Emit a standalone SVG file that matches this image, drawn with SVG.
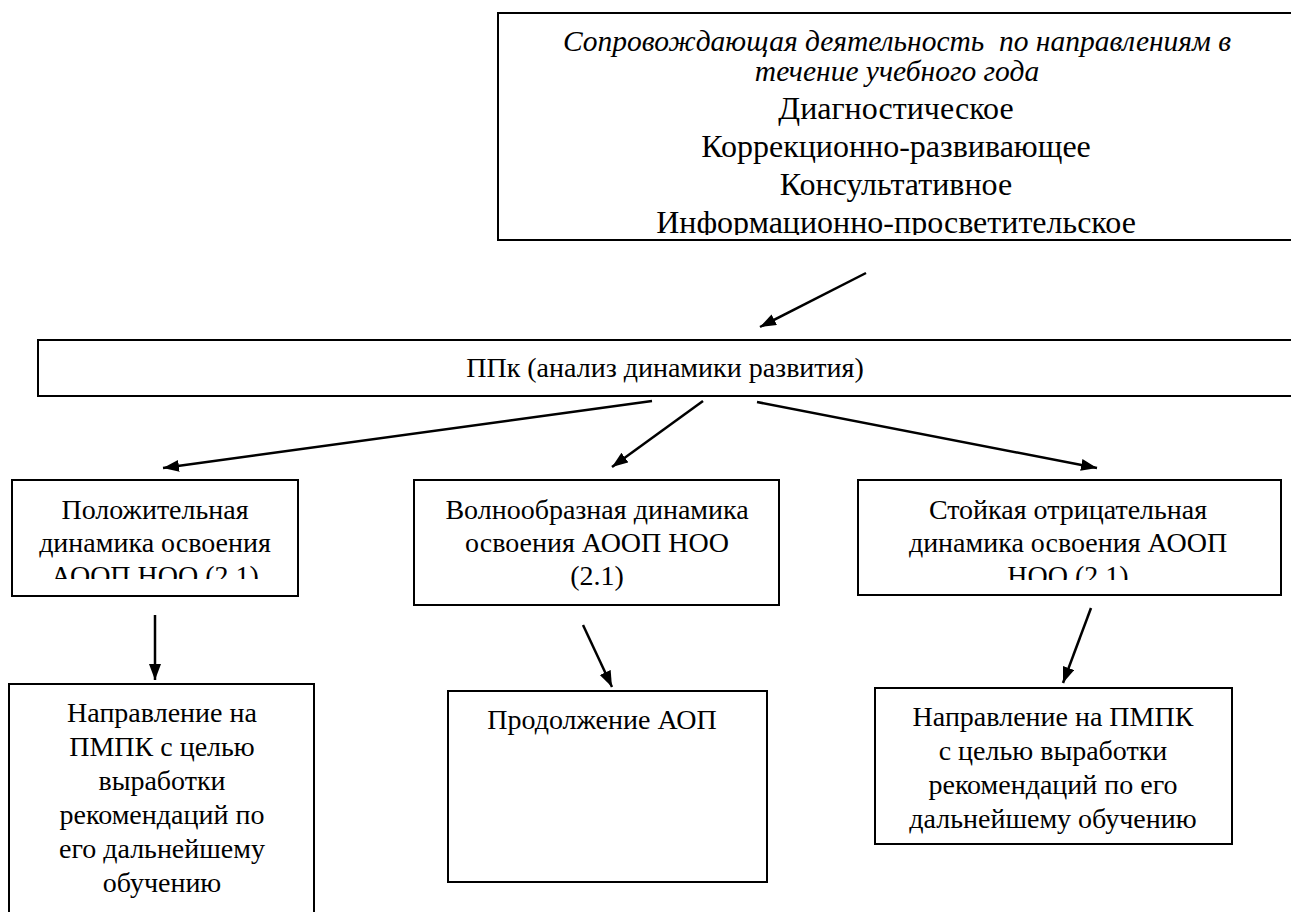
<svg xmlns="http://www.w3.org/2000/svg" width="1291" height="912" viewBox="0 0 1291 912">
<style>
.box{fill:#fff;stroke:#000;stroke-width:2}
.t{font-family:"Liberation Serif","Times New Roman",serif;font-size:28px;fill:#000;text-anchor:middle}
.big{font-size:32px}
.it{font-style:italic;font-size:29.5px;white-space:pre}
.conn line{stroke:#000;stroke-width:2.5}
</style>
<defs>
<marker id="ah" markerUnits="userSpaceOnUse" markerWidth="18" markerHeight="14" refX="16" refY="6" orient="auto">
<path d="M0,0 L16,6 L0,12 z" fill="#000"/>
</marker>
<clipPath id="c1"><rect x="498" y="13" width="800" height="222"/></clipPath>
<clipPath id="c2"><rect x="12" y="480" width="286" height="99"/></clipPath>
<clipPath id="c3"><rect x="858" y="480" width="423" height="100"/></clipPath>
</defs>
<rect width="1291" height="912" fill="#fff"/>
<g id="top">
<rect class="box" x="498" y="13" width="800" height="227"/>
<g clip-path="url(#c1)">
<text class="t it" x="897" y="51" xml:space="preserve">Сопровождающая деятельность  по направлениям в</text>
<text class="t it" x="897" y="81">течение учебного года</text>
<text class="t big" x="896" y="119">Диагностическое</text>
<text class="t big" x="896" y="157">Коррекционно-развивающее</text>
<text class="t big" x="896" y="195">Консультативное</text>
<text class="t big" x="896" y="233">Информационно-просветительское</text>
</g>
</g>
<g id="ppk">
<rect class="box" x="38" y="340" width="1260" height="56"/>
<text class="t" x="665" y="377">ППк (анализ динамики развития)</text>
</g>
<g id="pos">
<rect class="box" x="12" y="480" width="286" height="116"/>
<g clip-path="url(#c2)">
<text class="t" x="155" y="519">Положительная</text>
<text class="t" x="155" y="552">динамика освоения</text>
<text class="t" x="155" y="585">АООП НОО (2.1)</text>
</g>
</g>
<g id="wave">
<rect class="box" x="414" y="480" width="365" height="125"/>
<text class="t" x="597" y="519">Волнообразная динамика</text>
<text class="t" x="597" y="552">освоения АООП НОО</text>
<text class="t" x="597" y="585">(2.1)</text>
</g>
<g id="neg">
<rect class="box" x="858" y="480" width="423" height="115"/>
<g clip-path="url(#c3)">
<text class="t" x="1068" y="519">Стойкая отрицательная</text>
<text class="t" x="1068" y="552">динамика освоения АООП</text>
<text class="t" x="1068" y="585">НОО (2.1)</text>
</g>
</g>
<g id="pmpk1">
<rect class="box" x="9" y="684" width="305" height="240"/>
<text class="t" x="162" y="722">Направление на</text>
<text class="t" x="162" y="756">ПМПК с целью</text>
<text class="t" x="162" y="790">выработки</text>
<text class="t" x="162" y="824">рекомендаций по</text>
<text class="t" x="162" y="858">его дальнейшему</text>
<text class="t" x="162" y="892">обучению</text>
</g>
<g id="aop">
<rect class="box" x="448" y="691" width="319" height="191"/>
<text class="t" x="602" y="729">Продолжение АОП</text>
</g>
<g id="pmpk2">
<rect class="box" x="875" y="688" width="357" height="156"/>
<text class="t" x="1053" y="726">Направление на ПМПК</text>
<text class="t" x="1053" y="760">с целью выработки</text>
<text class="t" x="1053" y="794">рекомендаций по его</text>
<text class="t" x="1053" y="828">дальнейшему обучению</text>
</g>
<g class="conn" id="connectors">
<line x1="866" y1="273" x2="760" y2="327" marker-end="url(#ah)"/>
<line x1="652" y1="401" x2="163" y2="468" marker-end="url(#ah)"/>
<line x1="703" y1="401" x2="612" y2="467" marker-end="url(#ah)"/>
<line x1="757" y1="402" x2="1097" y2="468" marker-end="url(#ah)"/>
<line x1="155" y1="615" x2="155" y2="680" marker-end="url(#ah)"/>
<line x1="583" y1="625" x2="612" y2="687" marker-end="url(#ah)"/>
<line x1="1091" y1="608" x2="1063" y2="683" marker-end="url(#ah)"/>
</g>
</svg>
